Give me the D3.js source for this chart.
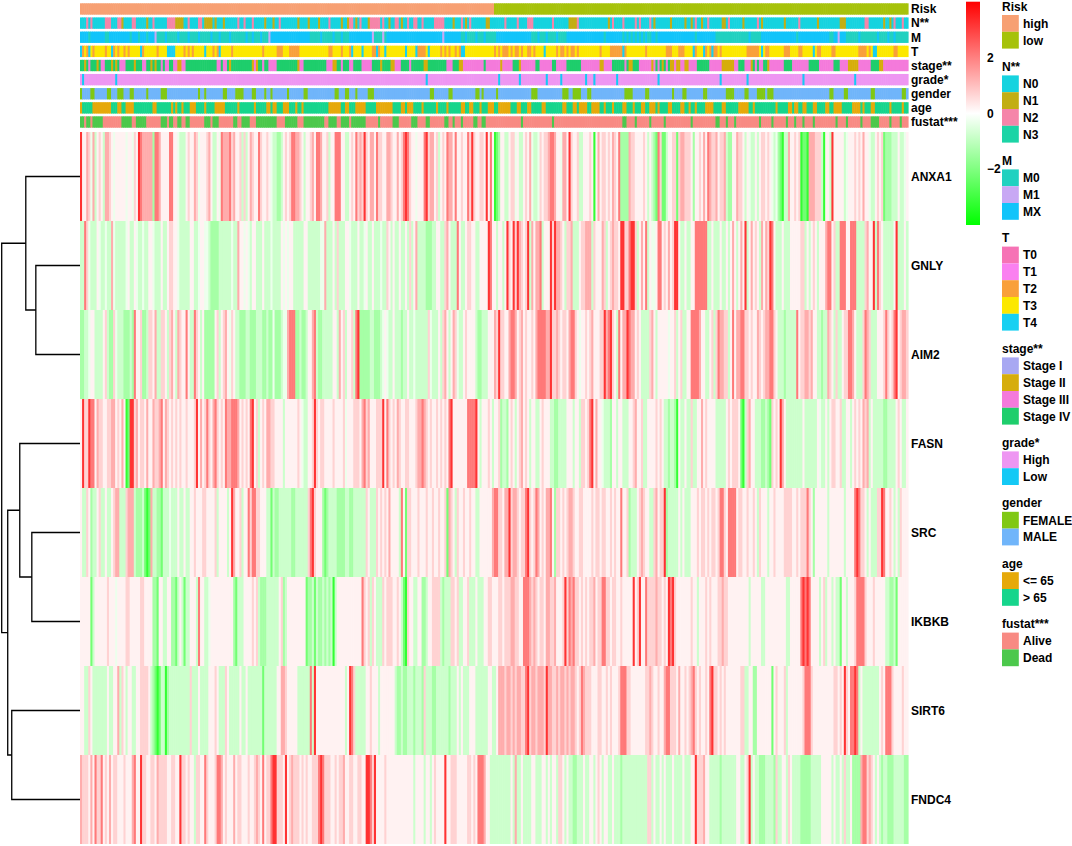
<!DOCTYPE html>
<html>
<head>
<meta charset="utf-8">
<script src="https://cdn.jsdelivr.net/npm/d3@7"></script>
<style>
  html, body { margin: 0; padding: 0; background: #fff; }
  svg { display: block; }
  text { font-family: 'Liberation Sans', Arial, sans-serif; font-weight: bold; font-size: 12px; fill: #000; }
</style>
</head>
<body>
<svg id="chart" width="1072" height="846"></svg>
<script>
// ===================================================================
// data: 400 samples, one char per sample (spaces are only for reading)

const N_COL = 400

const GENES = [ 'ANXA1', 'GNLY', 'AIM2', 'FASN', 'SRC', 'IKBKB', 'SIRT6', 'FNDC4' ]

// digit -> scaled expression
const LEVELS = [ -3.2, -2.2, -1.4, -0.8, -0.3, 0.2, 0.7, 1.3, 2.1, 3.2 ]

const EXPR_ANXA1 = `
9557647356 5377654555 5545546598 7777728875 5558855433 3565576455 5675335487 7786755636 3576558655 6543322356 5688776535 5675887556 3558885533 56586
7696577586 6557765575 6898655455 5896775635 6587758556 5586965566 5958501255 3356645335 6574334656 6788755477 5965563355 5650575665 6576582222 7
6655556535 3218611355 6616776665 2556575876 6756673225 5766535433 5356656543 4210337556 5601107776 6630553955 5553455565 6575543356 5612223335 3345`
const EXPR_GNLY = `
3386433354 3343374333 3345335433 4335543335 3356655433 3335533455 4432222333 3334337554 5435533353 3343333545 4553333355 3333334473 3353633355 43335
3345335333 4336535335 3353635733 3322233553 3675333853 3566553355 5598553553 5965969765 6937577835 5596977653 6673335667 7736555763 5676659966 8
9963575835 4458856575 6995335335 5888888335 3335335357 5357593575 6537576985 3335333555 5566353565 3555788563 3888558883 3336755938 6533333593 3353`
const EXPR_AIM2 = `
2233455333 3563226433 3222328556 2236657336 6536753765 5853386535 2222256356 7546533222 3322233322 3224222344 7888223223 5578322333 3355375635 56389
2222233222 3454335333 2335334333 3336433353 6753576433 5655553223 3355576966 5578875675 6556578888 7796676566 5788654556 5675556697 8965385779 8
7756533336 7535555545 5635633558 8887553356 3687766358 5778866565 5765677886 5333233333 8566776755 3323376536 3356688753 3368763335 5568656895 6776`
const EXPR_FASN = `
5966988576 6556677565 7501996756 6575576678 5765656565 5655569575 6865786565 8778887565 6589563565 7766555535 5555565433 5569656655 5565555645 55666
5786755566 6958656576 5566555677 8765655656 5658955555 5588889535 5565355623 3256535675 6535533565 5533223333 5553553665 6895755433 3255355333 5
5675563355 5565653323 3205335336 3355756555 5333335656 6651036755 3332232165 6597533333 3335333333 5433535665 5633553565 6576735333 3322333356 5335`
const EXPR_SRC = `
5336523356 3353356773 3367773222 3101733221 3334333533 5335565556 6555563555 5359755635 5868866555 3313223333 3322333333 6896555212 3333222233 22333
3336533365 6565755553 8516655565 5565565565 5617653655 6556553355 5555788665 7796776566 8965687565 7785266565 6776556655 5565665665 5656558556 2
3335676553 3675669233 3335353335 5565665656 6568865888 8566556556 5365553556 5555666655 6566686525 5555535555 5553555589 8665353336 6985565353 6555`
const EXPR_IKBKB = `
5555513555 5556555455 5566555556 6555522155 3355221353 1335553855 3345555555 5555213335 5556563222 3333335623 5555555551 2231322323 2303555555 55555
5865636533 3656665565 3106553355 2235566663 2333665633 5563335333 5566555665 6667766558 8876765665 7766755569 6878665656 5667566886 6566556555 5
5956955866 6676656598 9655555556 5535556565 5566766555 5555555355 5553355555 5555533555 5589898555 5356355353 3155355568 8886555655 5553322315 5555`
const EXPR_SIRT6 = `
5533653333 3335335573 6535533556 6665321013 3023333333 3336333533 3355565333 6533333533 5333333313 3333355776 5555533333 3839555555 5555555535 98633
3335565553 5555555322 3223332333 2633322333 3332333535 3335553333 3355335777 6776767766 8967767776 9776676776 7677656876 6655566556 5655568886 6
5555555667 6556557886 6657556567 8656556589 6656565555 5556633552 2555555515 6555635555 5556888655 5555555566 5659658898 3533333333 5658886555 5655`
const EXPR_FNDC4 = `
7666575866 8565756655 5655578559 6655665766 6655665596 6565536655 8655568875 6555756655 5655676585 6689966659 5676665656 5566689866 6556566755 66556
6559986955 5565555555 5555553555 5355356555 5955666555 5566565888 7553333333 3335373353 3335533355 3535536653 5332233353 3553565355 3353332333 3
3333333366 3533535333 5333353335 5966675533 3332333333 3553356935 3322233332 6335536533 3322222333 3355555353 3536335222 2788676535 3233222333 3322`

// annotation rows
const RISK_ROW = `
hhhhhhhhhh hhhhhhhhhh hhhhhhhhhh hhhhhhhhhh hhhhhhhhhh hhhhhhhhhh hhhhhhhhhh hhhhhhhhhh hhhhhhhhhh hhhhhhhhhh
hhhhhhhhhh hhhhhhhhhh hhhhhhhhhh hhhhhhhhhh hhhhhhhhhh hhhhhhhhhh hhhhhhhhhh hhhhhhhhhh hhhhhhhhhh hhhhhhhhhh
llllllllll llllllllll llllllllll llllllllll llllllllll llllllllll llllllllll llllllllll llllllllll llllllllll
llllllllll llllllllll llllllllll llllllllll llllllllll llllllllll llllllllll llllllllll llllllllll llllllllll`
const N_ROW = `
0002020000 0022200022 1000022000 0010020000 0022221111 0020000220 1111010001 0000002002 0002000001 0001002000
0000010000 1000010000 2000001001 2201020001 2222202001 0022010020 0220020000 0222220000 1000201020 0000001100
0000020000 0200002220 0000000020 0000001111 2000000000 0000010200 0020000020 2000020100 0000010000 0010010200
1002000000 1102000000 1000000201 0000000000 1000000200 0000001000 0000000111 0000000002 2000000010 0102000200`
const M_ROW = `
xxxx0xxxxx xx00xxxxxx xxxx0xxx0x xx0xxx1000 0x00000x00 00x0000x00 000x000x00 00x0000000 x00x000x00 01xxxxxxxx
xxxxxxxxxx x00000x000 00x000x000 xxxxxxxxxx x1000010xx xxxxxxxxxx xxxxxxxxxx xxxxx1xxxx xxxx00x000 0x000x0000
0xxxxxxxxx xxxxxxxx00 0x000x0000 x0000xxxxx xxxxxxxxxx xxx0xxxxxx xx0x0x0x0x 0x0x00xx0x xxxxxxxxxx xxxxxxx0xx
xxxxxxx000 0000000000 000x00000x xxxxxxxxxx xxxxxx0xxx xxxxxxxxxx xx00xx1xxx 000000x000 00000x0000 x00x000000`
const T_ROW = `
4232432333 3323342323 3232333334 2333333233 3344443333 2323233333 4333232433 3332333333 3333333323 3333322233
3222223333 3333333333 2233332333 2433334333 3224233433 3333333433 3342222343 3333232323 3232443333 3333333333
2323222323 2232332232 3333433333 2322323223 2333333333 3233332222 2242333333 3332333333 3332223332 2233334233
3423242232 3333333333 3322222234 3223333333 2223333223 3333432233 3332233333 3333332222 3234433333 3332233333`
const STAGE_ROW = `
4424344424 3344424243 3344442444 3344242443 4334433223 3444444444 4444443343 3424444444 4442324434 4333344444
4444423344 4444444443 3322443444 3344443333 3444424444 2233344443 4444442244 4444444333 4442233333 3333343333
3332333334 4423333333 4433333344 3333344444 4433333333 3223333444 4443422444 3333332343 4243422322 3322333344
4444333333 2222223344 4333243433 4423333333 4444333333 3344444333 3333444333 3222223333 3344442233 3333333333`
const GRADE_ROW = `
hlhhhhhhhh hhhhhhhlhh hhhhhhhhhh hhhhhhhhhh hhhhhhhhhh hhhhhhhhhh hhhhhhhhhh hhhhhhhhhh hhhhhhhhhh hhhhhhhhhh
hhhhhhhhhh hhhhhhhhhh hhhhhhhhhh hhhhhhhhhh hhhhhhhhhh hhhhhhhhhh hhhhhhhlhh hhhhhhhhhh hhhhhhhhhh hhhhhhhhhh
hhlhhhhhhh hhlhhhhhhh hhhhhlhhhh hhlhhhhhhh hhhhlhhhlh hhhhhhhhhl hhhhhhhhhh hhhhhhhhhl hhhhhhhhhh hhhhhhhhhh
hhhhhhhhhl hhhhhhhhhh hhlhhhhhhh hhhhhhhhhh hhhhhhhhhl hhhhhhhhhh hhhhhhhhhh hhhhlhhhhh hhhhhhhhhh hhhhhhhhhh`
const GENDER_ROW = `
fmmmmffmmm mmmffmmmff fmmmffmmmm mmfmmmmmmf ffmmmmmmmm mmmmmmmfmm fmmmmmmmmf fmmmmffffm mmmffmmmmf mmfmmmmmmm
fmmmmmmmff mmmmmmmmmm mmmffmmmff mmmfmmmmmf ffmmmmmmmm mmmmmmmmmm mmmmmmmmmf fmmmmmmmff mmmmmmmmmm mffmfmmmmm
mfmmmmmmmm mmmmmmmmff fmmmmmmmmm mmmfffmmff ffmmmffmmm mmmmmmmmmm mmmffffmmm mmmffmmmmm mmmmmmfmmm mffmmmmmmm
mffmmmmmmm mmffffmmmm mffmmmmfff fmfffmmmmm mmmmmmmmmm mmmmmmmmmm mmffmmmmmf fmmmmmmmmm mmffmmmmmm mmmmmmmffm`
const AGE_ROW = `
yoooooyyyy yyyyyoooyy ooyyyyoooo oooooyyooo ooooyoyooy oooyyyoooo yooooyyyyy ooooooyooo ooooyooooo yyoyyoooyy
yoooyooyoo oooooooooo yyyyyyooyy oooyyyyyoo oooyyyyyyy yooooyyoyy yooooyoooo ooyooooyoo ooooyyooyy oooyoooyyy
ooyyyyyyoo oyyoooyyoo oooyyooooo oooyyoooyy oyyyyooyyy yooyoooyoo ooyyoooyoo oyyooyyyoy ooooyyoooo yyooyooyoo
ooyyyyoooo yyooooooyy yyyooyoooo ooooooyooo ooyyoyyooy yoooyyoooo yyooyyyyoo oooyyyyoyo ooyyoooooo oyoooooyoo`
const FUSTAT_ROW = `
ddaddadddd daaaaaaaaa dddddaaddd ddaaaaaaad ddaddaadda addaaaaaaa dddadddaaa aaaaddaadd ddaaaddddd dddddaaaad
dddddaaadd ddddddddaa ddddaadddd adddddddaa aaaadaaaaa adddaaaaaa dddaaaadda aaaaaaddaa daaadaaaaa ddaaddaaaa
aaaaaaaaaa aaadaaaaaa aaaaaaaada aaaaaaaaaa aaaaaaaaaa aaaaaaaaaa aaddaaaada aaaaadaaaa aadaaaaaaa aaaaadaaaa
aaaaaaadda aadaaadaaa aaaaaaaada aaaadaaaaa adaaadaaad aaaadaaaaa aaaaadaaaa daaaaaadaa aaddddaaaa adaaaadaaa`

// legend categories: code -> label -> colour
const RISK_CODES = 'hl', RISK_LABELS = [ 'high', 'low' ], RISK_COLORS = [ '#F7A073', '#A6C20A' ]
const N_CODES = '0123', N_LABELS = [ 'N0', 'N1', 'N2', 'N3' ], N_COLORS = [ '#16D3DF', '#C2AE14', '#F585A9', '#1CD4A6' ]
const M_CODES = '01x', M_LABELS = [ 'M0', 'M1', 'MX' ], M_COLORS = [ '#20D1C0', '#C8A8F4', '#12C4FA' ]
const T_CODES = '01234', T_LABELS = [ 'T0', 'T1', 'T2', 'T3', 'T4' ], T_COLORS = [ '#F673B5', '#FA80F0', '#F9A03A', '#FCE800', '#17D0F2' ]
const STAGE_CODES = '1234', STAGE_LABELS = [ 'Stage I', 'Stage II', 'Stage III', 'Stage IV' ], STAGE_COLORS = [ '#A8A8F2', '#D6AD0C', '#F47ADB', '#1ECE6C' ]
const GRADE_CODES = 'hl', GRADE_LABELS = [ 'High', 'Low' ], GRADE_COLORS = [ '#EE96F2', '#14C9F5' ]
const GENDER_CODES = 'fm', GENDER_LABELS = [ 'FEMALE', 'MALE' ], GENDER_COLORS = [ '#80C814', '#70B5FA' ]
const AGE_CODES = 'yo', AGE_LABELS = [ '<= 65', '> 65' ], AGE_COLORS = [ '#E6A90A', '#16D58C' ]
const FUSTAT_CODES = 'ad', FUSTAT_LABELS = [ 'Alive', 'Dead' ], FUSTAT_COLORS = [ '#F88A83', '#4CC84C' ]

// row dendrogram, hclust style: negative = gene (1-based), positive = earlier merge
const MERGE = [ [ -2, -3 ], [ -5, -6 ], [ -1, 1 ], [ -4, 2 ], [ -7, -8 ], [ 4, 5 ], [ 3, 6 ] ]
const MERGE_HEIGHT = [ 44, 48, 54, 60, 68, 72, 78 ]

const SCALE_TICKS = [ -2, 0, 2 ]

// ===================================================================

const strip = s => s.replace(/\s+/g, '')

const exprRows = [ EXPR_ANXA1, EXPR_GNLY, EXPR_AIM2, EXPR_FASN, EXPR_SRC, EXPR_IKBKB, EXPR_SIRT6, EXPR_FNDC4 ]
  .map(s => strip(s).split('').map(c => LEVELS[+c]))

const annotations = [
  [ 'Risk', RISK_ROW, RISK_CODES, RISK_LABELS, RISK_COLORS ],
  [ 'N**', N_ROW, N_CODES, N_LABELS, N_COLORS ],
  [ 'M', M_ROW, M_CODES, M_LABELS, M_COLORS ],
  [ 'T', T_ROW, T_CODES, T_LABELS, T_COLORS ],
  [ 'stage**', STAGE_ROW, STAGE_CODES, STAGE_LABELS, STAGE_COLORS ],
  [ 'grade*', GRADE_ROW, GRADE_CODES, GRADE_LABELS, GRADE_COLORS ],
  [ 'gender', GENDER_ROW, GENDER_CODES, GENDER_LABELS, GENDER_COLORS ],
  [ 'age', AGE_ROW, AGE_CODES, AGE_LABELS, AGE_COLORS ],
  [ 'fustat***', FUSTAT_ROW, FUSTAT_CODES, FUSTAT_LABELS, FUSTAT_COLORS ]
].map(([ name, row, codes, labels, colors ]) => ({
  name,
  values: strip(row).split(''),
  fill: d3.scaleOrdinal().domain(codes.split('')).range(colors),
  labels,
  colors
}))

const HEAT_LEFT = 80
const HEAT_RIGHT = 908
const HEAT_TOP = 132
const HEAT_BOTTOM = 844
const LABEL_X = 911

const svg = d3.select('#chart')
svg.append('rect').attr('width', 1072).attr('height', 846).attr('fill', '#fff')

const x = d3.scaleBand().domain(d3.range(N_COL)).range([ HEAT_LEFT, HEAT_RIGHT ])
const yGene = d3.scaleBand().domain(GENES).range([ HEAT_TOP, HEAT_BOTTOM ])
const yAnnot = d3.scaleBand().domain(annotations.map(a => a.name)).range([ 3.3, 127.7 ]).paddingInner(0.196)
const color = d3.scaleLinear().domain([ -4, 0, 4 ]).range([ '#00ff00', '#ffffff', '#ff0000' ]).clamp(true)

const cellW = x.bandwidth() + 0.6

// annotation bars
const annotG = svg.append('g')
annotations.forEach(a => {
  annotG.append('g')
    .selectAll('rect')
    .data(a.values)
    .join('rect')
      .attr('x', (d, i) => x(i))
      .attr('y', yAnnot(a.name))
      .attr('width', cellW)
      .attr('height', yAnnot.bandwidth())
      .attr('fill', d => a.fill(d))

  annotG.append('text')
    .attr('x', LABEL_X)
    .attr('y', yAnnot(a.name) + yAnnot.bandwidth() / 2)
    .attr('dy', '0.36em')
    .text(a.name)
})

// heatmap
const heatG = svg.append('g')
GENES.forEach((gene, gi) => {
  heatG.append('g')
    .selectAll('rect')
    .data(exprRows[gi])
    .join('rect')
      .attr('x', (d, i) => x(i))
      .attr('y', yGene(gene))
      .attr('width', cellW)
      .attr('height', yGene.bandwidth())
      .attr('fill', d => color(d))

  heatG.append('text')
    .attr('x', LABEL_X)
    .attr('y', yGene(gene) + yGene.bandwidth() / 2)
    .attr('dy', '0.36em')
    .text(gene)
})

// row dendrogram
const xDend = d3.scaleLinear().domain([ 0, d3.max(MERGE_HEIGHT) ]).range([ HEAT_LEFT, 1.7 ])
const nodes = []
const nodeOf = ref => ref < 0
  ? { y: yGene(GENES[-ref - 1]) + yGene.bandwidth() / 2, h: 0 }
  : nodes[ref - 1]

const dendG = svg.append('g')
  .attr('fill', 'none')
  .attr('stroke', '#000')
  .attr('stroke-width', 1.3)

MERGE.forEach(([ a, b ], k) => {
  const c1 = nodeOf(a)
  const c2 = nodeOf(b)
  const h = MERGE_HEIGHT[k]
  nodes.push({ y: (c1.y + c2.y) / 2, h })
  dendG.append('path')
    .attr('d', `M${xDend(c1.h)},${c1.y}H${xDend(h)}V${c2.y}H${xDend(c2.h)}`)
})

// colour key
const yKey = d3.scaleLinear().domain([ -4, 4 ]).range([ 225, 1.7 ])
const grad = svg.append('defs').append('linearGradient')
  .attr('id', 'key')
  .attr('x1', 0).attr('y1', 1).attr('x2', 0).attr('y2', 0)
grad.selectAll('stop')
  .data(d3.range(-4, 4.01, 0.5))
  .join('stop')
    .attr('offset', d => (d + 4) / 8)
    .attr('stop-color', d => color(d))

svg.append('rect')
  .attr('x', 966)
  .attr('y', yKey(4))
  .attr('width', 14)
  .attr('height', yKey(-4) - yKey(4))
  .attr('fill', 'url(#key)')

svg.append('g')
  .selectAll('text')
  .data(SCALE_TICKS)
  .join('text')
    .attr('x', 987)
    .attr('y', d => yKey(d))
    .attr('dy', '0.36em')
    .text(d => d < 0 ? '\u2212' + Math.abs(d) : d)

// annotation legends
const SW = 16.8
const legendG = svg.append('g')
let legendTop = 15
annotations.forEach(a => {
  legendG.append('text')
    .attr('x', 1002)
    .attr('y', legendTop - 4.5)
    .text(a.name)

  a.labels.forEach((label, i) => {
    legendG.append('rect')
      .attr('x', 1002)
      .attr('y', legendTop + i * SW)
      .attr('width', SW)
      .attr('height', SW)
      .attr('fill', a.colors[i])
    legendG.append('text')
      .attr('x', 1023)
      .attr('y', legendTop + i * SW + SW / 2)
      .attr('dy', '0.36em')
      .text(label)
  })

  legendTop += a.labels.length * SW + 26.8
})

// sanity check on typed rows
const bad = exprRows.map((r, i) => [ GENES[i], r.length ])
  .concat(annotations.map(a => [ a.name, a.values.length ]))
  .filter(([ , n ]) => n !== N_COL)
if (bad.length) {
  throw new Error('row length mismatch: ' + bad.map(b => b.join('=')).join(', '))
}
</script>
</body>
</html>
